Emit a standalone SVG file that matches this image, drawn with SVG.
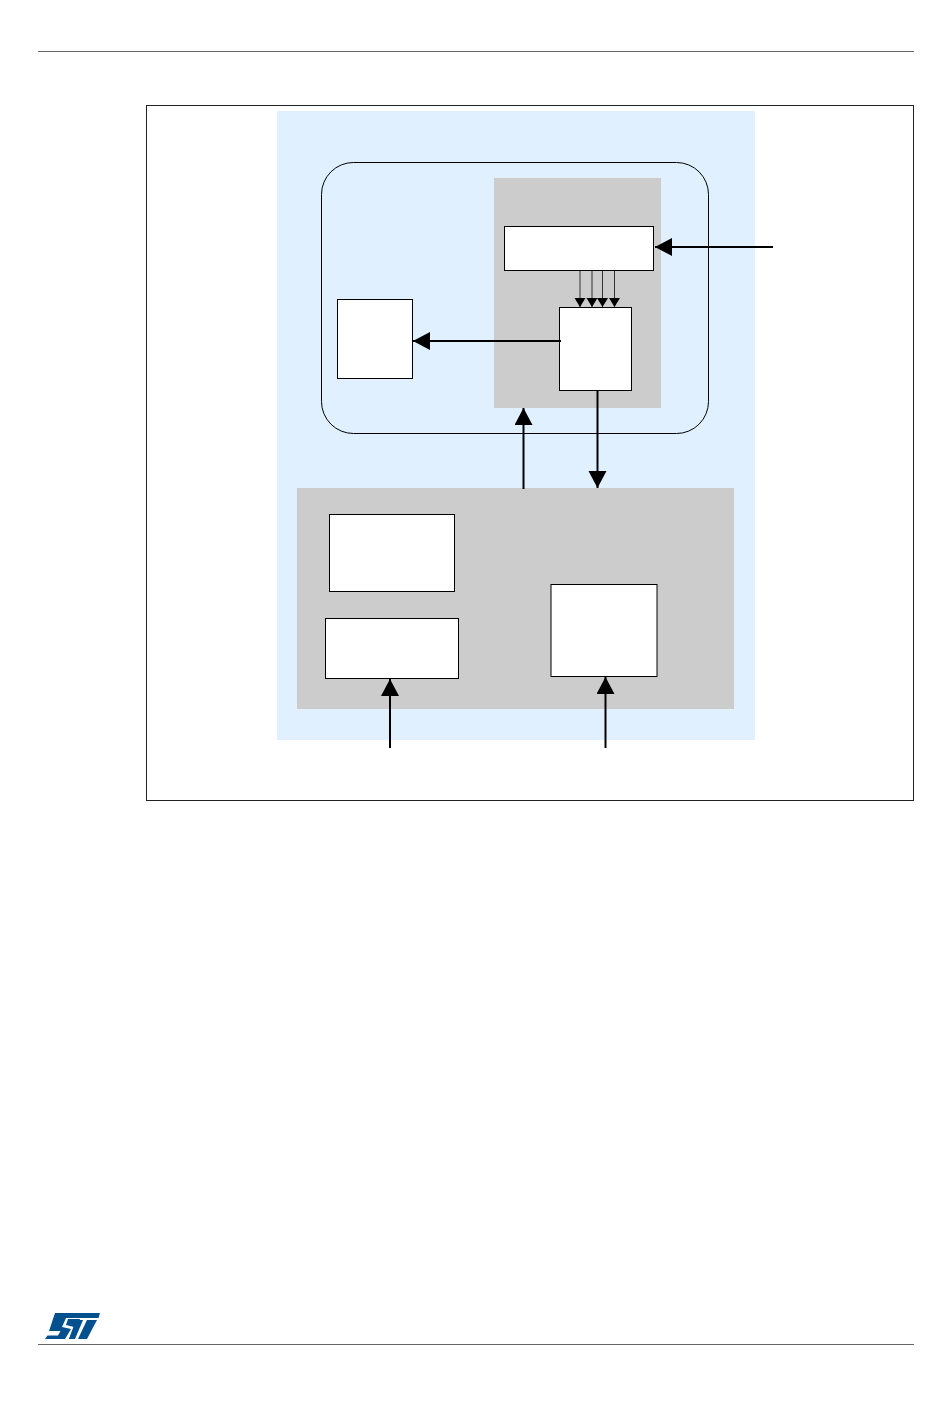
<svg xmlns="http://www.w3.org/2000/svg" width="950" height="1420" viewBox="0 0 950 1420">
<style>
.box{fill:#fff;stroke:#000;stroke-width:1}
.grey{fill:#ccc}
.line{stroke:#000;stroke-width:2;fill:none}
.thin{stroke:#333;stroke-width:1;fill:none}
.rule{stroke:#666;stroke-width:1;fill:none}
</style>
<defs>
<marker id="big" markerUnits="userSpaceOnUse" markerWidth="20" markerHeight="20" refX="17" refY="9" orient="auto"><path d="M0 0L17 9L0 18Z" fill="#000"/></marker>
<marker id="small" markerUnits="userSpaceOnUse" markerWidth="12" markerHeight="12" refX="9" refY="5.500" orient="auto"><path d="M0 0L9 5.500L0 11Z" fill="#000"/></marker>
</defs>
<rect width="950" height="1420" fill="#fff"/>
<g id="page-rules">
<line class="rule" x1="38" y1="51.500" x2="914" y2="51.500"/>
<line class="rule" x1="38" y1="1344.500" x2="914" y2="1344.500"/>
</g>
<rect id="frame" x="146.500" y="105.500" width="767" height="695" fill="#fff" stroke="#222" stroke-width="1"/>
<rect id="outer-band" x="277" y="111" width="478" height="629" fill="#e0f0ff"/>
<g id="rounded-block"><rect x="321.500" y="162.500" width="387" height="271" rx="32" ry="32" fill="none" stroke="#000" stroke-width="1"/></g>
<g id="upper-grey"><rect class="grey" x="494" y="178" width="167" height="230"/></g>
<g id="lower-grey"><rect class="grey" x="297" y="488" width="437" height="221"/></g>
<g id="wide-box"><rect class="box" x="504.500" y="226.500" width="149" height="44"/></g>
<g id="tall-box"><rect class="box" x="559.500" y="307.500" width="72" height="83"/></g>
<g id="left-box"><rect class="box" x="337.500" y="299.500" width="75" height="79"/></g>
<g id="lower-top-box"><rect class="box" x="329.500" y="514.500" width="125" height="77"/></g>
<g id="lower-bottom-box"><rect class="box" x="325.500" y="618.500" width="133" height="60"/></g>
<g id="lower-right-box"><rect class="box" x="551" y="584.500" width="106" height="92"/></g>
<g id="connectors">
<line class="line" x1="773" y1="247" x2="655" y2="247" marker-end="url(#big)"/>
<line class="thin" x1="580" y1="271" x2="580" y2="307" marker-end="url(#small)" stroke="#666" stroke-width="1.500"/>
<line class="thin" x1="592" y1="271" x2="592" y2="307" marker-end="url(#small)"/>
<line class="thin" x1="602.500" y1="271" x2="602.500" y2="307" marker-end="url(#small)"/>
<line class="thin" x1="614.500" y1="271" x2="614.500" y2="307" marker-end="url(#small)"/>
<line class="line" x1="561" y1="341" x2="413" y2="341" marker-end="url(#big)"/>
<line class="line" x1="597.500" y1="391" x2="597.500" y2="488" marker-end="url(#big)"/>
<line class="line" x1="523.500" y1="489" x2="523.500" y2="408" marker-end="url(#big)"/>
<line class="line" x1="390" y1="748" x2="390" y2="679" marker-end="url(#big)"/>
<line class="line" x1="605.500" y1="748" x2="605.500" y2="677" marker-end="url(#big)"/>
</g>
<g id="logo" fill="#03508f">
<path d="M55 1313H100L98.500 1318H66L62 1327L71 1329L65 1339H45L47.500 1335.500H58L60.500 1331H49Z"/>
<path d="M68 1319H84L80 1319L74 1339H69L74 1327L66 1325Z"/>
<path d="M76 1320H83L75 1339H69Z"/>
<path d="M87 1320H97L87 1339H78Z"/>
</g>
</svg>
